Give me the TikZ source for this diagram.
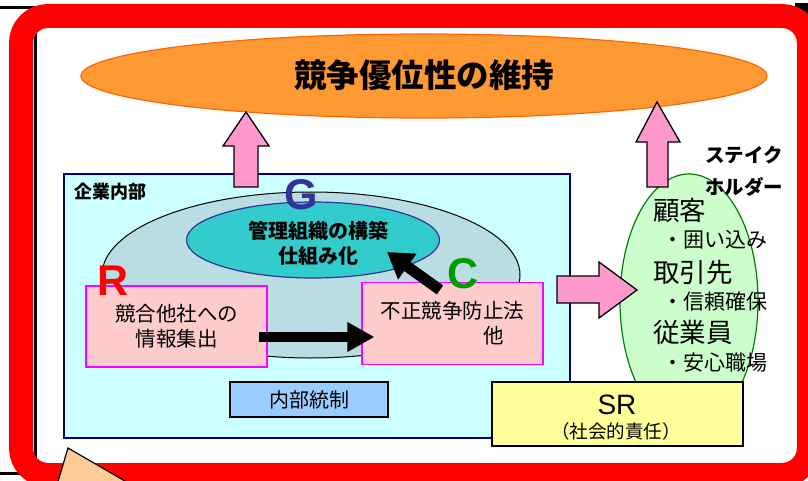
\documentclass[tikz,border=0pt]{standalone}
\usepackage{fontspec}
\setmainfont{Noto Sans CJK JP}
\newfontfamily\lat{Liberation Sans}
\usetikzlibrary{arrows.meta,calc,shapes.geometric}
\definecolor{frameRed}{HTML}{FF0000}
\definecolor{goalFill}{HTML}{FF9933}
\definecolor{goalLine}{HTML}{FF6600}
\definecolor{pinkArrow}{HTML}{FF99CC}
\definecolor{innerFill}{HTML}{CCFFFF}
\definecolor{innerLine}{HTML}{000080}
\definecolor{grayTeal}{RGB}{185,221,226}
\definecolor{tealFill}{HTML}{33CCCC}
\definecolor{indigo}{HTML}{333399}
\definecolor{boxPink}{HTML}{FFCCCC}
\definecolor{boxMag}{HTML}{FF00FF}
\definecolor{ctrlBlue}{HTML}{99CCFF}
\definecolor{stakeFill}{HTML}{CCFFCC}
\definecolor{stakeLine}{HTML}{008000}
\definecolor{srYellow}{HTML}{FFFF99}
\definecolor{peach}{HTML}{FFCC99}
\definecolor{cGreen}{HTML}{009900}
\begin{document}
\begin{tikzpicture}[x=1pt,y=-1pt,
  bigletter/.style={inner sep=0pt, anchor=base, font=\lat\bfseries\fontsize{43}{43}\selectfont},
  pinkbox/.style={draw=boxMag, fill=boxPink, line width=1.2pt, inner sep=0pt, align=center},
  blockarrow/.style={draw=black, fill=pinkArrow, line width=1.3pt, line join=miter},
  fatarrow/.style={line width=10pt, -{Triangle[length=27pt,width=28pt]}},
  stakebig/.style={anchor=west, inner sep=0pt, font=\fontsize{26.5}{26.5}\selectfont},
  stakesmall/.style={anchor=west, inner sep=0pt, font=\fontsize{21}{21}\selectfont}]
\useasboundingbox (0,0) rectangle (808,481);
\fill[white] (0,0) rectangle (808,481);
% black lines behind the frame
\draw[line width=3pt] (0,8) -- (35,8) -- (35,473) -- (0,473);
\fill (795,3) rectangle (808,14);
% red frame
\draw[frameRed, line width=24pt, rounded corners=27pt] (21,16) rectangle (809,475);
% goal ellipse
\node[ellipse, draw=goalLine, fill=goalFill, line width=1.2pt, inner sep=0pt,
      minimum width=686pt, minimum height=84pt] (goal) at (424,76) {};
\node[font=\bfseries\fontsize{32.5}{32.5}\selectfont] (title) at (424,75) {競争優位性の維持};
% inner company box
\node[draw=innerLine, fill=innerFill, line width=1.2pt, inner sep=0pt,
      minimum width=506pt, minimum height=264pt] (inner) at (317,306) {};
\node[anchor=west, inner sep=0pt, font=\bfseries\fontsize{18}{18}\selectfont] (innerlbl) at (74,192) {企業内部};
% gray ellipse and teal ellipse
\node[ellipse, draw=black, fill=grayTeal, line width=1pt, inner sep=0pt,
      minimum width=418pt, minimum height=166pt] (grayE) at (311,275) {};
\node[ellipse, draw=indigo, fill=tealFill, line width=1.2pt, inner sep=0pt,
      minimum width=253pt, minimum height=76pt] (tealE) at (313,240) {};
\node[align=center, font=\bfseries\fontsize{20}{25}\selectfont] (tealtxt) at (318,243) {管理組織の構築\\仕組み化};
\node[bigletter, text=indigo] (G) at (301,209.5) {G};
% pink boxes
\node[pinkbox, minimum width=181pt, minimum height=81pt, font=\fontsize{20.5}{25}\selectfont] (rbox) at (176.5,326.5) {競合他社への\\情報集出};
\node[pinkbox, align=left, minimum width=181pt, minimum height=82pt, font=\fontsize{20.5}{25}\selectfont] (cbox) at (452.5,323.5) {不正競争防止法\\\hspace*{5em}他};
\node[bigletter, text=frameRed] (R) at (113,295.5) {R};
\node[bigletter, text=cGreen] (C) at (463,288.5) {C};
% black arrows
\draw[fatarrow] ($(rbox.east)+(-9,10.5)$) -- ($(cbox.west)+(13,13.5)$);
\draw[fatarrow, -{Triangle[length=25pt,width=30pt]}, line width=11pt] ($(cbox.north)+(-12.5,8)$) -- ($(tealE.center)+(74,12)$);
% internal control box
\node[draw=black, fill=ctrlBlue, line width=1.5pt, inner sep=0pt,
      minimum width=158pt, minimum height=35pt, font=\fontsize{20}{20}\selectfont] (ctrl) at (309,399.5) {内部統制};
% stakeholder ellipse
\node[ellipse, draw=stakeLine, fill=stakeFill, line width=1.2pt, inner sep=0pt,
      minimum width=138pt, minimum height=254pt] (stake) at (689,301) {};
% pink block arrows
\draw[blockarrow] (234,187) -- (234,146) -- (223,146) -- (246,112) -- (269,146) -- (258,146) -- (258,187) -- cycle;
\draw[blockarrow] (647,187) -- (647,142) -- (636,142) -- (657,102) -- (680,142) -- (668,142) -- (668,187) -- cycle;
\draw[blockarrow] (557,276) -- (599,276) -- (599,262) -- (637,290) -- (599,318) -- (599,303) -- (557,303) -- cycle;
% SR box
\node[draw=black, fill=srYellow, line width=1.5pt, inner sep=0pt,
      minimum width=251pt, minimum height=64pt] (sr) at (617.5,414) {};
\node[inner sep=0pt, font=\lat\fontsize{28}{28}\selectfont] (srtxt) at (617,405) {SR};
\node[inner sep=0pt, font=\fontsize{18.5}{18.5}\selectfont] (srsub) at (616,431) {（社会的責任）};
% stakeholder texts
\node[anchor=west, inner sep=0pt, align=left, font=\bfseries\fontsize{19.5}{32}\selectfont] (stakelbl) at (705,171) {ステイク\\ホルダー};
\node[stakebig] (s1) at (653,210) {顧客};
\node[stakesmall] (s1a) at (662,240) {・囲い込み};
\node[stakebig] (s2) at (653,272) {取引先};
\node[stakesmall] (s2a) at (662,302) {・信頼確保};
\node[stakebig] (s3) at (653,332) {従業員};
\node[stakesmall] (s3a) at (662,363) {・安心職場};
% peach triangle at bottom
\draw[fill=peach, line width=1.2pt] (68,448) -- (54,495) -- (149,495) -- cycle;
\end{tikzpicture}
\end{document}
